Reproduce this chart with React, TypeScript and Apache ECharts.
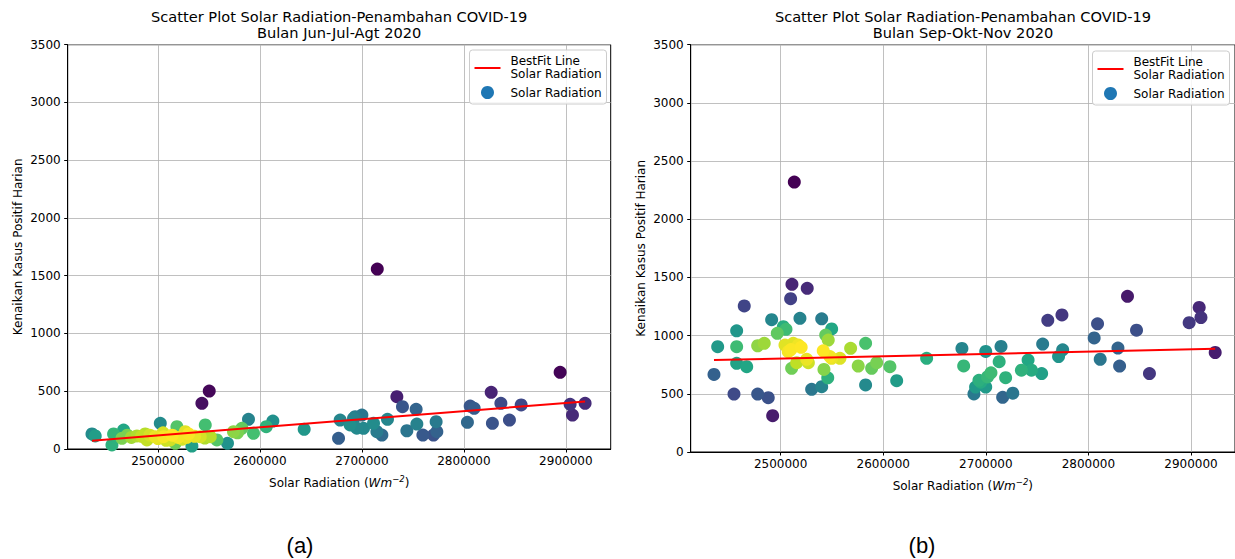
import React, { useEffect, useRef } from "react";
import * as echarts from "echarts";

// ---------- data ----------
const xTicks = [2500000, 2600000, 2700000, 2800000, 2900000];
const yTicks = [0, 500, 1000, 1500, 2000, 2500, 3000, 3500];

// Panel (a): Jun-Jul-Agt 2020  [solar radiation, daily new cases]
const radiationA = [
  2435300, 2438500, 2454900, 2456500, 2466300, 2464700, 2479400, 2474000, 2487500, 2489200,
  2484000, 2497400, 2502300, 2505500, 2500000, 2508000, 2512000, 2518600, 2517000, 2514000,
  2520000, 2526800, 2528400, 2524000, 2533300, 2536000, 2543100, 2550300, 2546400, 2541500,
  2551300, 2546000, 2557800, 2568200, 2574100, 2582300, 2578000, 2588800, 2593700, 2606200,
  2612700, 2643400, 2677100, 2678700, 2688500, 2691800, 2693400, 2700000, 2701600, 2695000,
  2711400, 2714700, 2719600, 2715100, 2725100, 2734300, 2739800, 2744100, 2753200, 2753900,
  2759800, 2770200, 2772800, 2773500, 2803500, 2806200, 2810100, 2826800, 2828000, 2836300,
  2844700, 2856200, 2894400, 2904200, 2906500, 2918900, 2530000, 2505000, 2492000, 2470000,
];
const casesA = [
  130, 113, 35, 130, 164, 93, 113, 100, 130, 78,
  110, 107, 222, 107, 90, 75, 78, 193, 49, 120,
  100, 150, 101, 85, 26, 110, 396, 502, 208, 107,
  107, 95, 78, 49, 150, 179, 140, 257, 136, 193,
  242, 171, 93, 251, 208, 266, 280, 294, 179, 180,
  222, 150, 121, 1558, 257, 453, 366, 158, 344, 216,
  121, 121, 236, 150, 231, 372, 352, 491, 222, 396,
  251, 381, 664, 387, 294, 396, 130, 140, 120, 120,
];
const bestFitXA = [2435300, 2918900];
const bestFitYA = [72, 412];

// Panel (b): Sep-Okt-Nov 2020
const radiationB = [
  2513300, 2511000, 2525900, 2464500, 2509700, 2491200, 2518800, 2540000, 2457100, 2502600,
  2505200, 2549700, 2438600, 2457100, 2435000, 2454500, 2457100, 2466900, 2477600, 2487900,
  2492200, 2477600, 2484000, 2496700, 2504200, 2507400, 2512300, 2517200, 2510700, 2515600,
  2525400, 2527000, 2530200, 2540000, 2541500, 2542200, 2545900, 2543900, 2546400, 2549700,
  2557800, 2568200, 2575600, 2582800, 2582800, 2588700, 2593600, 2606500, 2613100, 2642300,
  2676700, 2678400, 2699900, 2714800, 2713000, 2693300, 2701600, 2690000, 2688400, 2699900,
  2719300, 2716400, 2726300, 2734700, 2741200, 2744500, 2754400, 2755400, 2760400, 2774200,
  2770900, 2774900, 2805600, 2808900, 2811500, 2828800, 2830400, 2838100, 2846900, 2859500,
  2898200, 2908000, 2909700, 2923600, 2510000, 2520000, 2695000, 2705000, 2548000,
];
const casesB = [
  2320, 1441, 1407, 1255, 1317, 1137, 1149, 1145, 1041, 1077,
  1054, 1058, 905, 905, 667, 498, 762, 733, 498, 467,
  312, 913, 934, 1020, 919, 862, 934, 919, 719, 767,
  796, 767, 539, 561, 870, 710, 638, 1005, 962, 805,
  805, 891, 739, 934, 576, 719, 767, 733, 613, 805,
  890, 740, 864, 907, 776, 616, 645, 558, 499, 558,
  639, 470, 505, 703, 790, 703, 674, 927, 1132, 1178,
  820, 878, 980, 1102, 797, 893, 738, 1338, 1047, 674,
  1111, 1242, 1155, 855, 880, 900, 600, 680, 820,
];
const bestFitXB = [2435000, 2923600];
const bestFitYB = [790, 887];

// ---------- helpers ----------
const FONT = "DejaVu Sans";
const VIRIDIS = ["#440154", "#482475", "#414487", "#355f8d", "#2a788e", "#21918c", "#22a884", "#44bf70", "#7ad151", "#bddf26", "#fde725"];

function hexToRgb(h: string) {
  return [parseInt(h.slice(1, 3), 16), parseInt(h.slice(3, 5), 16), parseInt(h.slice(5, 7), 16)];
}
function viridis(t: number) {
  const c = Math.max(0, Math.min(1, t)) * (VIRIDIS.length - 1);
  const i = Math.min(VIRIDIS.length - 2, Math.floor(c));
  const f = c - i;
  const a = hexToRgb(VIRIDIS[i]);
  const b = hexToRgb(VIRIDIS[i + 1]);
  const m = a.map((v, k) => Math.round(v + (b[k] - v) * f));
  return `rgb(${m[0]},${m[1]},${m[2]})`;
}

// Gaussian KDE (Scott's rule) density colouring, as in the original plot
function densityPoints(xs: number[], ys: number[]) {
  const n = xs.length;
  const mx = xs.reduce((s, v) => s + v, 0) / n;
  const my = ys.reduce((s, v) => s + v, 0) / n;
  let sxx = 0, syy = 0, sxy = 0;
  for (let i = 0; i < n; i++) {
    sxx += (xs[i] - mx) ** 2;
    syy += (ys[i] - my) ** 2;
    sxy += (xs[i] - mx) * (ys[i] - my);
  }
  const f2 = Math.pow(n, -1 / 3);
  const a = (sxx / (n - 1)) * f2, d = (syy / (n - 1)) * f2, b = (sxy / (n - 1)) * f2;
  const det = a * d - b * b;
  const ia = d / det, id = a / det, ib = -b / det;
  const z = xs.map((_, i) => {
    let s = 0;
    for (let j = 0; j < n; j++) {
      const dx = xs[i] - xs[j], dy = ys[i] - ys[j];
      s += Math.exp(-0.5 * (ia * dx * dx + 2 * ib * dx * dy + id * dy * dy));
    }
    return s;
  });
  const zmin = Math.min(...z), zmax = Math.max(...z);
  const idx = z.map((_, i) => i).sort((p, q) => z[p] - z[q]);
  return idx.map((i) => ({
    value: [xs[i], ys[i]],
    itemStyle: { color: viridis((z[i] - zmin) / (zmax - zmin)), opacity: 1 },
  }));
}

const plain = (v: number) => String(v);

function xAxisFor(gridIndex: number, min: number, max: number, nameGap: number) {
  return {
    type: "value",
    gridIndex,
    min,
    max,
    name: "{n|Solar Radiation (}{i|Wm}{s|\u22122}{n|)}",
    nameLocation: "middle",
    nameGap,
    nameTextStyle: {
      rich: {
        n: { fontSize: 12, fontFamily: FONT, color: "#000", lineHeight: 18 },
        i: { fontSize: 12, fontFamily: FONT, color: "#000", fontStyle: "italic", lineHeight: 18 },
        s: { fontSize: 8.5, fontFamily: FONT, color: "#000", fontStyle: "italic", verticalAlign: "top" },
      },
    },
    axisLine: { show: true, onZero: false, lineStyle: { color: "#000", width: 1 } },
    axisTick: { show: true, length: 3.5, customValues: xTicks, lineStyle: { color: "#000", width: 1 } },
    axisLabel: { customValues: xTicks, formatter: plain, color: "#000", fontSize: 12, fontFamily: FONT, margin: 6 },
    splitLine: { show: true, lineStyle: { color: "#b0b0b0", width: 0.8 } },
  };
}

function yAxisFor(gridIndex: number) {
  return {
    type: "value",
    gridIndex,
    min: 0,
    max: 3500,
    interval: 500,
    name: "Kenaikan Kasus Positif Harian",
    nameLocation: "middle",
    nameGap: 44,
    nameTextStyle: { fontSize: 12, fontFamily: FONT, color: "#000" },
    axisLine: { show: true, lineStyle: { color: "#000", width: 1 } },
    axisTick: { show: true, length: 3.5, customValues: yTicks, lineStyle: { color: "#000", width: 1 } },
    axisLabel: { customValues: yTicks, formatter: plain, color: "#000", fontSize: 12, fontFamily: FONT, margin: 7 },
    splitLine: { show: true, lineStyle: { color: "#b0b0b0", width: 0.8 } },
  };
}

function legendGraphics(x0: number, y0: number) {
  return [
    {
      type: "rect",
      z: 100,
      shape: { x: x0, y: y0, width: 137, height: 54, r: 3 },
      style: { fill: "rgba(255,255,255,0.85)", stroke: "#cccccc", lineWidth: 1 },
    },
    {
      type: "line",
      z: 101,
      shape: { x1: x0 + 5, y1: y0 + 18, x2: x0 + 31, y2: y0 + 18 },
      style: { stroke: "#ff0000", lineWidth: 2 },
    },
    {
      type: "text",
      z: 101,
      x: x0 + 41,
      y: y0 + 4,
      style: { text: "BestFit Line\nSolar Radiation", fontSize: 12, fontFamily: FONT, fill: "#000", lineHeight: 13.5, verticalAlign: "top" },
    },
    {
      type: "circle",
      z: 101,
      shape: { cx: x0 + 18, cy: y0 + 42.5, r: 6.5 },
      style: { fill: "#1f77b4" },
    },
    {
      type: "text",
      z: 101,
      x: x0 + 41,
      y: y0 + 42.5,
      style: { text: "Solar Radiation", fontSize: 12, fontFamily: FONT, fill: "#000", verticalAlign: "middle" },
    },
  ];
}

export default function App() {
  const ref = useRef<HTMLDivElement>(null);
  useEffect(() => {
    if (!ref.current) return;
    const chart = echarts.init(ref.current, undefined, { renderer: "svg" });
    const titleStyle = {
      fontSize: 14.6,
      fontFamily: FONT,
      fill: "#000",
      align: "center",
      verticalAlign: "top",
      lineHeight: 16.5,
    };
    const option = {
      animation: false,
      backgroundColor: "#ffffff",
      grid: [
        { left: 67.7, top: 44.7, width: 543, height: 404.3, show: true, borderColor: "#000", borderWidth: 1, backgroundColor: "transparent" },
        { left: 690.7, top: 44.7, width: 544.3, height: 407.3, show: true, borderColor: "#000", borderWidth: 1, backgroundColor: "transparent" },
      ],
      xAxis: [xAxisFor(0, 2411500, 2944000, 25), xAxisFor(1, 2412300, 2942900, 25)],
      yAxis: [yAxisFor(0), yAxisFor(1)],
      series: [
        {
          name: "Solar Radiation",
          type: "scatter",
          xAxisIndex: 0,
          yAxisIndex: 0,
          symbolSize: 13,
          itemStyle: { opacity: 1 },
          data: densityPoints(radiationA, casesA),
          z: 2,
        },
        {
          name: "BestFit Line Solar Radiation",
          type: "line",
          xAxisIndex: 0,
          yAxisIndex: 0,
          showSymbol: false,
          symbol: "none",
          data: bestFitXA.map((x, i) => [x, bestFitYA[i]]),
          lineStyle: { color: "#ff0000", width: 2 },
          z: 3,
        },
        {
          name: "Solar Radiation",
          type: "scatter",
          xAxisIndex: 1,
          yAxisIndex: 1,
          symbolSize: 13,
          itemStyle: { opacity: 1 },
          data: densityPoints(radiationB, casesB),
          z: 2,
        },
        {
          name: "BestFit Line Solar Radiation",
          type: "line",
          xAxisIndex: 1,
          yAxisIndex: 1,
          showSymbol: false,
          symbol: "none",
          data: bestFitXB.map((x, i) => [x, bestFitYB[i]]),
          lineStyle: { color: "#ff0000", width: 2 },
          z: 3,
        },
      ],
      graphic: [
        {
          type: "text",
          x: 339.2,
          y: 8,
          style: { ...titleStyle, text: "Scatter Plot Solar Radiation-Penambahan COVID-19\nBulan Jun-Jul-Agt 2020" },
        },
        {
          type: "text",
          x: 963,
          y: 8,
          style: { ...titleStyle, text: "Scatter Plot Solar Radiation-Penambahan COVID-19\nBulan Sep-Okt-Nov 2020" },
        },
        ...legendGraphics(469.5, 50),
        ...legendGraphics(1092.5, 51),
        {
          type: "text",
          x: 300,
          y: 545,
          style: { text: "(a)", fontSize: 22, fontFamily: "Liberation Sans", fill: "#000", align: "center", verticalAlign: "middle" },
        },
        {
          type: "text",
          x: 922,
          y: 545,
          style: { text: "(b)", fontSize: 22, fontFamily: "Liberation Sans", fill: "#000", align: "center", verticalAlign: "middle" },
        },
      ],
    };
    chart.setOption(option as any);
    return () => chart.dispose();
  }, []);
  return (
    <div
      ref={ref}
      style={{ position: "absolute", left: 0, top: 0, width: 1235, height: 559, background: "#fff" }}
    />
  );
}
